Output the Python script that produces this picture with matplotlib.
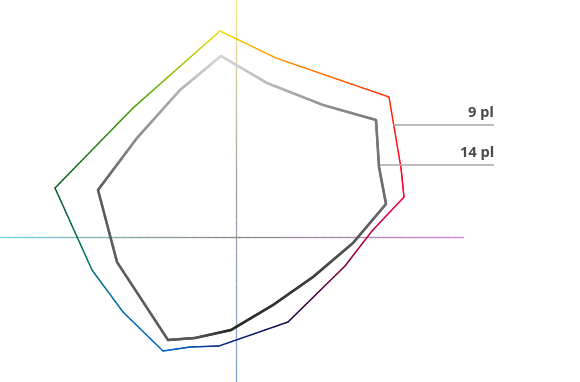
import numpy as np
import matplotlib
matplotlib.use("Agg")
import matplotlib.pyplot as plt
from matplotlib.collections import LineCollection
from matplotlib.colors import to_rgb

# gamut outlines in a*/b* units (outer = 9 pl, inner = 14 pl)
outer_a = [-8, 20, 76.5, 82.5, 84, 68, 54.5, 26, -8.5, -23, -36.5, -56.5, -72, -90.5, -51.5]
outer_b = [103, 89.5, 70, 34.5, 20, 3, -14.5, -42.5, -54.5, -55, -57, -37.5, -16.5, 24.5, 64.5]
outer_cols = ["#f2dc00", "#ff9a00", "#ff2a00", "#ff0020", "#ff0040", "#c00040", "#800040",
              "#100040", "#002a8a", "#0050b0", "#0068cc", "#006cb0", "#00707a", "#005a1e", "#3c9a00"]

inner_a = [-7.5, 15.5, 43.5, 70, 71.5, 75, 58.5, 38.5, 18.5, -2.5, -20.5, -34, -59.5, -69, -49.5, -28]
inner_b = [90.5, 77, 66, 58.5, 35, 16.5, -3, -20, -34, -46.5, -50.5, -51.5, -12.5, 23.5, 49.5, 73.5]
inner_grays = [0.84, 0.74, 0.58, 0.47, 0.45, 0.42, 0.33, 0.25, 0.2, 0.15, 0.33, 0.35, 0.36, 0.36, 0.55, 0.7]

labels = ["9 pl", "14 pl"]
label_b = [56, 36]
label_a_start = [78.5, 72]


def gradient_path(ax, xs, ys, cols, lw, n=30):
    xs = list(xs) + [xs[0]]
    ys = list(ys) + [ys[0]]
    cols = [np.array(to_rgb(c)) for c in cols]
    cols = cols + [cols[0]]
    segs, cs = [], []
    for i in range(len(xs) - 1):
        t = np.linspace(0, 1, n + 1)
        px = xs[i] + (xs[i + 1] - xs[i]) * t
        py = ys[i] + (ys[i + 1] - ys[i]) * t
        for j in range(n):
            segs.append([(px[j], py[j]), (px[j + 1], py[j + 1])])
            tm = (t[j] + t[j + 1]) / 2
            cs.append(cols[i] * (1 - tm) + cols[i + 1] * tm)
    lc = LineCollection(segs, colors=cs, linewidths=lw, capstyle="round", joinstyle="round")
    ax.add_collection(lc)


def gradient_line(ax, p0, p1, stops, lw, n=60):
    t = np.linspace(0, 1, n + 1)
    px = p0[0] + (p1[0] - p0[0]) * t
    py = p0[1] + (p1[1] - p0[1]) * t
    pos = np.linspace(0, 1, len(stops))
    rgb = np.array([to_rgb(c) for c in stops])
    segs, cs = [], []
    for j in range(n):
        tm = (t[j] + t[j + 1]) / 2
        segs.append([(px[j], py[j]), (px[j + 1], py[j + 1])])
        cs.append([np.interp(tm, pos, rgb[:, k]) for k in range(3)])
    ax.add_collection(LineCollection(segs, colors=cs, linewidths=lw, capstyle="projecting"))


fig = plt.figure(figsize=(5.8, 3.82), dpi=100)
ax = fig.add_axes([0, 0, 1, 1])
ax.set_xlim(-118, 172)
ax.set_ylim(-72.5, 118.5)
ax.axis("off")

# axes
gradient_line(ax, (0, 118.5), (0, -72.5), ["#f8ec88", "#c8c4a0", "#a0a0a0", "#98a8c0", "#80a4d8"], 0.9)
gradient_line(ax, (-118, 0), (113.5, 0), ["#6ad8dc", "#88a8a8", "#8a8a8a", "#a888a8", "#d878dc"], 0.9)

gradient_path(ax, outer_a, outer_b, outer_cols, 1.0)
gradient_path(ax, inner_a, inner_b, [(g, g, g) for g in inner_grays], 1.8)

for lab, b, a0 in zip(labels, label_b, label_a_start):
    ax.plot([a0, 129], [b, b], color="#a8a8a8", lw=1.1, solid_capstyle="butt")
    ax.text(129, b + 2.5, lab, ha="right", va="bottom", fontsize=10.5,
            fontweight="bold", color="#4a4a4a", family="Open Sans")

fig.savefig("out.png", dpi=100)
